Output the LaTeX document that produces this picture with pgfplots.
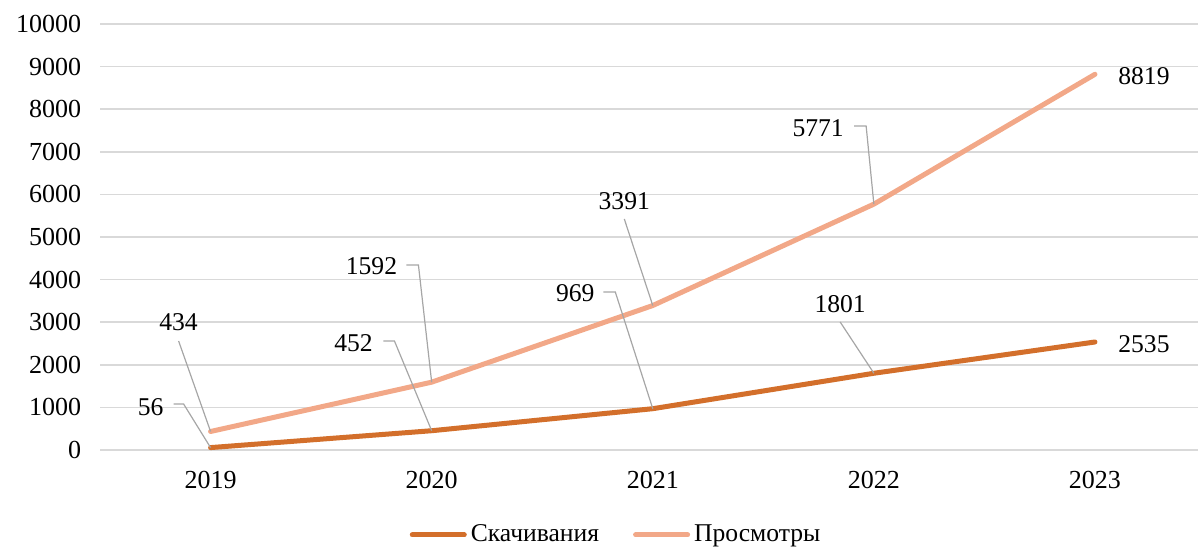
\documentclass[border=0pt]{standalone}
\usepackage{fontspec}
\setmainfont{Liberation Serif}
\usepackage{pgfplots}
\pgfplotsset{compat=1.18}
\definecolor{dl}{HTML}{D36F2B}
\definecolor{vw}{HTML}{F2A888}
\definecolor{gridc}{HTML}{D9D9D9}
\definecolor{lead}{HTML}{A6A6A6}
\begin{document}
\begin{tikzpicture}
\fontsize{12.8}{15}\selectfont
\begin{axis}[
  scale only axis, width=549pt, height=213pt,
  xmin=-0.5, xmax=4.466, ymin=0, ymax=10000,
  xtick={0,1,2,3,4}, xticklabels={2019,2020,2021,2022,2023},
  ytick={0,1000,...,10000},
  yticklabels={0,1000,2000,3000,4000,5000,6000,7000,8000,9000,10000},
  scaled y ticks=false,
  ymajorgrids, grid style={gridc, line width=0.75pt},
  axis line style={draw=none}, tick style={draw=none},
  ticklabel style={font=\fontsize{13}{15}\selectfont},
  yticklabel style={xshift=-5pt},
  xticklabel style={yshift=-6pt},
  clip=false,
  legend style={draw=none, at={(0.4709,-0.1995)}, anchor=center,
    legend columns=2, font=\fontsize{12.8}{15}\selectfont,
    /tikz/every even column/.append style={column sep=15pt}},
  legend image code/.code={\draw[#1, line cap=round] (0pt,0pt) -- (26pt,0pt);},
]
\addplot[dl, line width=2.5pt, line cap=round, line join=round] coordinates {
  (0,56) (1,452) (2,969) (3,1801) (4,2535)};
\addlegendentry{Скачивания}
\addplot[vw, line width=2.5pt, line cap=round, line join=round] coordinates {
  (0,434) (1,1592) (2,3391) (3,5771) (4,8819)};
\addlegendentry{Просмотры}
% leader lines
\draw[lead, line width=0.6pt] (axis cs:-0.1446,2559) -- (axis cs:0,434);
\draw[lead, line width=0.6pt] (axis cs:-0.1672,1080) -- (axis cs:-0.122,1080) -- (axis cs:0,56);
\draw[lead, line width=0.6pt] (axis cs:0.8859,4343) -- (axis cs:0.9401,4343) -- (axis cs:1,1592);
\draw[lead, line width=0.6pt] (axis cs:0.7819,2559) -- (axis cs:0.8316,2559) -- (axis cs:1,452);
\draw[lead, line width=0.6pt] (axis cs:1.8712,5423) -- (axis cs:2,3391);
\draw[lead, line width=0.6pt] (axis cs:1.7763,3709) -- (axis cs:1.8305,3709) -- (axis cs:2,969);
\draw[lead, line width=0.6pt] (axis cs:2.8475,3005) -- (axis cs:3,1801);
\draw[lead, line width=0.6pt] (axis cs:2.9107,7606) -- (axis cs:2.965,7606) -- (axis cs:3,5771);
% data labels
\node at (axis cs:-0.1446,3005) {434};
\node at (axis cs:-0.2712,1009) {56};
\node at (axis cs:0.7277,4319) {1592};
\node at (axis cs:0.6463,2512) {452};
\node at (axis cs:1.8712,5845) {3391};
\node at (axis cs:1.6497,3685) {969};
\node at (axis cs:2.8475,3427) {1801};
\node at (axis cs:2.748,7559) {5771};
\node at (axis cs:4.2215,8779) {8819};
\node at (axis cs:4.2215,2488) {2535};
\coordinate (bl) at (rel axis cs:-0.0911,-0.2324);
\coordinate (tr) at (rel axis cs:1,1.0563);
\end{axis}
\pgfresetboundingbox
\path[use as bounding box] (bl) rectangle (tr);
\end{tikzpicture}
\end{document}
